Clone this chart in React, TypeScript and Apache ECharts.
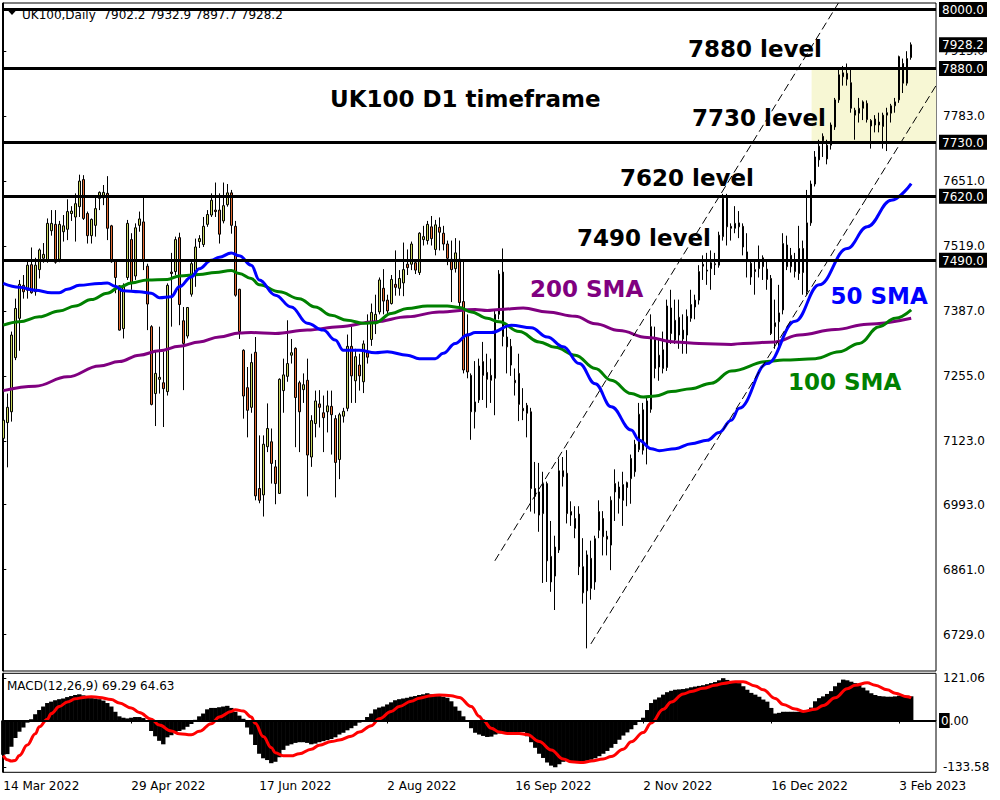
import React, { useEffect, useRef } from 'react';
import * as echarts from 'echarts';

// [open, close, low, high] per daily bar, 14 Mar 2022 .. Feb 2023
const CANDLES: number[][] = [
  [7128, 7165, 7120, 7220], [7160, 7191, 7069, 7219], [7182, 7338, 7162, 7345], [7292, 7392, 7287, 7412], [7372, 7441, 7306, 7450],
  [7439, 7426, 7412, 7460], [7429, 7480, 7412, 7490], [7481, 7424, 7422, 7516], [7426, 7480, 7418, 7495], [7471, 7511, 7453, 7514],
  [7494, 7502, 7485, 7525], [7490, 7565, 7485, 7575], [7550, 7565, 7540, 7592], [7563, 7486, 7483, 7592], [7492, 7563, 7486, 7570],
  [7548, 7560, 7528, 7582], [7553, 7589, 7531, 7614], [7585, 7590, 7570, 7600], [7578, 7605, 7528, 7626], [7599, 7651, 7578, 7664],
  [7654, 7575, 7572, 7663], [7585, 7540, 7524, 7589], [7540, 7573, 7524, 7575], [7561, 7595, 7538, 7619], [7616, 7628, 7592, 7630],
  [7617, 7628, 7602, 7643], [7626, 7555, 7531, 7661], [7560, 7487, 7485, 7562], [7490, 7455, 7423, 7492], [7438, 7348, 7347, 7439],
  [7351, 7436, 7331, 7443], [7455, 7565, 7450, 7572], [7532, 7443, 7430, 7545], [7458, 7556, 7450, 7565], [7561, 7574, 7548, 7589],
  [7568, 7490, 7470, 7619], [7478, 7401, 7348, 7483], [7355, 7197, 7195, 7358], [7219, 7260, 7153, 7304], [7248, 7252, 7219, 7355],
  [7241, 7229, 7151, 7304], [7223, 7439, 7215, 7443], [7466, 7463, 7355, 7505], [7467, 7532, 7460, 7538], [7536, 7400, 7358, 7546],
  [7367, 7321, 7226, 7395], [7336, 7394, 7331, 7395], [7421, 7483, 7416, 7490], [7460, 7517, 7436, 7534], [7528, 7534, 7515, 7541],
  [7522, 7559, 7517, 7578], [7563, 7583, 7558, 7592], [7582, 7612, 7578, 7626], [7592, 7589, 7578, 7648], [7592, 7543, 7524, 7626],
  [7570, 7601, 7565, 7648], [7603, 7627, 7599, 7645], [7627, 7561, 7544, 7633], [7559, 7419, 7416, 7570], [7431, 7345, 7330, 7432],
  [7307, 7214, 7168, 7309], [7231, 7185, 7130, 7273], [7191, 7282, 7180, 7300], [7303, 7011, 7002, 7334], [7026, 7002, 6996, 7134],
  [7013, 7116, 6969, 7134], [7111, 7148, 7100, 7199], [7121, 7077, 7036, 7148], [7070, 7036, 6994, 7084], [7016, 7248, 7015, 7250],
  [7225, 7257, 7180, 7290], [7254, 7280, 7243, 7368], [7297, 7302, 7280, 7330], [7311, 7211, 7110, 7313], [7241, 7182, 7100, 7245],
  [7227, 7237, 7200, 7260], [7246, 7094, 7010, 7290], [7090, 7164, 7070, 7175], [7158, 7204, 7130, 7225], [7198, 7191, 7150, 7226],
  [7180, 7170, 7100, 7215], [7182, 7194, 7140, 7225], [7193, 7176, 7095, 7225], [7168, 7079, 7008, 7175], [7085, 7176, 7045, 7180],
  [7173, 7183, 7160, 7190], [7189, 7315, 7183, 7339], [7315, 7255, 7200, 7355], [7245, 7294, 7200, 7310], [7277, 7255, 7225, 7300],
  [7243, 7320, 7220, 7327], [7302, 7293, 7280, 7380], [7329, 7384, 7316, 7402], [7361, 7380, 7340, 7420], [7385, 7450, 7380, 7455],
  [7433, 7407, 7380, 7472], [7409, 7387, 7380, 7420], [7402, 7451, 7400, 7460], [7441, 7435, 7418, 7510], [7433, 7453, 7418, 7470],
  [7444, 7471, 7417, 7526], [7482, 7475, 7460, 7512], [7482, 7523, 7470, 7528], [7485, 7470, 7462, 7490], [7465, 7545, 7460, 7547],
  [7532, 7538, 7520, 7560], [7530, 7563, 7522, 7570], [7558, 7534, 7520, 7580], [7512, 7562, 7500, 7572], [7557, 7547, 7510, 7577],
  [7545, 7523, 7510, 7560], [7523, 7494, 7480, 7530], [7492, 7471, 7405, 7530], [7473, 7505, 7465, 7535], [7492, 7404, 7395, 7530],
  [7406, 7267, 7260, 7490], [7340, 7263, 7250, 7380], [7256, 7182, 7125, 7260], [7182, 7202, 7148, 7285], [7206, 7275, 7200, 7290],
  [7284, 7256, 7206, 7324], [7262, 7248, 7190, 7300], [7256, 7246, 7200, 7290], [7250, 7380, 7175, 7390], [7380, 7462, 7370, 7470],
  [7466, 7335, 7315, 7514], [7334, 7314, 7260, 7355], [7315, 7277, 7255, 7330], [7246, 7241, 7215, 7270], [7260, 7197, 7163, 7300],
  [7189, 7184, 7165, 7230], [7195, 7179, 7130, 7200], [7182, 7026, 6979, 7190], [7026, 7010, 6975, 7080], [7019, 6972, 6938, 7078],
  [6975, 7036, 6834, 7060], [7036, 6879, 6836, 7040], [6888, 6836, 6816, 6960], [6848, 6907, 6779, 6930], [6901, 7062, 6895, 7087],
  [7062, 7050, 7030, 7090], [7057, 6975, 6955, 7104], [6979, 6972, 6950, 7000], [6945, 6965, 6925, 6990], [6974, 6867, 6850, 6990],
  [6867, 6814, 6792, 6925], [6818, 6891, 6701, 6900], [6884, 6823, 6800, 6920], [6836, 6924, 6820, 6930], [6941, 6979, 6925, 7002],
  [6965, 6928, 6890, 6980], [6929, 6923, 6890, 6940], [6911, 7002, 6860, 7010], [7036, 7019, 6960, 7065], [7006, 7029, 6975, 7040],
  [7002, 7034, 6950, 7060], [7038, 7028, 6990, 7040], [7046, 7087, 6995, 7095], [7060, 7116, 7050, 7125], [7105, 7177, 7100, 7200],
  [7186, 7104, 7095, 7200], [7114, 7204, 7075, 7210], [7187, 7355, 7180, 7380], [7329, 7270, 7250, 7355], [7297, 7273, 7245, 7330],
  [7270, 7308, 7260, 7345], [7272, 7397, 7265, 7410], [7393, 7341, 7320, 7430], [7328, 7368, 7320, 7410], [7374, 7338, 7310, 7410],
  [7348, 7330, 7300, 7380], [7338, 7376, 7300, 7390], [7372, 7400, 7365, 7430], [7395, 7409, 7370, 7420], [7409, 7467, 7400, 7480],
  [7482, 7478, 7450, 7500], [7470, 7468, 7440, 7505], [7473, 7485, 7430, 7510], [7483, 7481, 7460, 7505], [7480, 7541, 7475, 7548],
  [7538, 7616, 7530, 7625], [7619, 7558, 7520, 7625], [7559, 7555, 7530, 7565], [7555, 7565, 7545, 7600], [7566, 7558, 7535, 7590],
  [7559, 7517, 7500, 7565], [7507, 7490, 7455, 7545], [7484, 7456, 7440, 7487], [7471, 7467, 7420, 7487], [7473, 7490, 7455, 7520],
  [7495, 7477, 7450, 7500], [7472, 7451, 7430, 7490], [7453, 7341, 7338, 7460], [7355, 7363, 7310, 7410], [7365, 7383, 7310, 7440],
  [7389, 7524, 7380, 7545], [7521, 7477, 7470, 7540], [7500, 7477, 7465, 7515], [7467, 7487, 7455, 7505], [7463, 7514, 7450, 7560],
  [7514, 7465, 7420, 7530], [7426, 7566, 7420, 7633], [7566, 7645, 7560, 7652], [7645, 7700, 7640, 7712], [7694, 7722, 7680, 7735],
  [7742, 7733, 7700, 7748], [7696, 7724, 7685, 7735], [7724, 7765, 7715, 7770], [7761, 7816, 7755, 7820], [7816, 7867, 7810, 7880],
  [7871, 7863, 7845, 7885], [7870, 7858, 7845, 7890], [7851, 7799, 7790, 7880], [7795, 7785, 7735, 7800], [7789, 7799, 7770, 7820],
  [7799, 7812, 7775, 7815], [7809, 7776, 7770, 7815], [7774, 7763, 7717, 7777], [7765, 7777, 7750, 7785], [7771, 7765, 7750, 7790],
  [7762, 7785, 7717, 7790], [7785, 7790, 7712, 7800], [7789, 7804, 7770, 7808], [7804, 7812, 7790, 7820], [7816, 7904, 7810, 7906],
  [7890, 7850, 7830, 7900], [7850, 7900, 7845, 7915], [7902.2, 7928.2, 7897.7, 7932.9],
];

// moving averages: [bar index, value]
const SMA50: number[][] = [
  [0, 7443], [4, 7435], [8, 7429], [12, 7424], [14, 7424], [16, 7431], [19, 7439], [24, 7443], [26, 7444], [28, 7437],
  [30, 7428], [34, 7426], [37, 7423], [39, 7414], [42, 7416], [44, 7436], [47, 7456], [49, 7473], [52, 7490], [54, 7496],
  [57, 7505], [59, 7499], [62, 7480], [64, 7450], [68, 7419], [72, 7395], [76, 7362], [80, 7348], [83, 7328], [85, 7307],
  [89, 7307], [93, 7302], [96, 7304], [101, 7297], [104, 7290], [108, 7290], [110, 7301], [113, 7321], [116, 7338], [118, 7343],
  [122, 7343], [127, 7358], [132, 7353], [136, 7334], [140, 7314], [144, 7280], [148, 7239], [152, 7192], [157, 7145], [159, 7124],
  [162, 7107], [164, 7103], [168, 7107], [172, 7117], [176, 7124], [179, 7140], [182, 7165], [184, 7189], [191, 7280], [198, 7366],
  [204, 7440], [211, 7514], [216, 7558], [222, 7612], [227, 7646],
];
const SMA100: number[][] = [
  [0, 7358], [4, 7365], [9, 7375], [14, 7387], [18, 7397], [22, 7410], [26, 7423], [29, 7435], [32, 7444], [36, 7450],
  [41, 7451], [44, 7458], [49, 7461], [53, 7465], [57, 7469], [59, 7463], [62, 7453], [64, 7440], [69, 7426], [74, 7412],
  [78, 7395], [82, 7378], [86, 7368], [90, 7362], [93, 7363], [97, 7382], [101, 7392], [106, 7397], [111, 7397], [114, 7394],
  [117, 7385], [121, 7372], [124, 7365], [129, 7345], [134, 7324], [138, 7313], [143, 7297], [148, 7270], [152, 7246], [157, 7219],
  [160, 7212], [163, 7214], [167, 7223], [172, 7229], [177, 7240], [182, 7265], [191, 7284], [195, 7287], [203, 7290], [209, 7304],
  [214, 7321], [219, 7355], [223, 7372], [227, 7389],
];
const SMA200: number[][] = [
  [0, 7225], [8, 7234], [16, 7253], [24, 7275], [29, 7284], [34, 7297], [39, 7306], [44, 7315], [49, 7324], [54, 7334],
  [59, 7342], [62, 7343], [68, 7341], [76, 7348], [84, 7355], [93, 7365], [101, 7375], [109, 7385], [118, 7390], [121, 7388],
  [124, 7390], [130, 7393], [136, 7385], [143, 7376], [148, 7361], [154, 7347], [161, 7333], [168, 7324], [174, 7321], [182, 7319],
  [185, 7321], [193, 7324], [199, 7338], [208, 7349], [216, 7360], [227, 7372],
];

// MACD(12,26,9) main value per bar (histogram)
const MACD_MAIN: number[] = [
  -98, -96, -75, -50, -32, -20, -6, 4, 18, 30,
  40, 50, 54, 58, 61, 63, 67, 70, 73, 75,
  72, 68, 64, 63, 61, 57, 50, 40, 25, 12,
  8, 6, 8, 10, 10, 7, -3, -30, -45, -58,
  -68, -48, -42, -35, -30, -26, -18, -10, 2, 12,
  20, 32, 36, 36, 38, 40, 42, 36, 25, 14,
  5, -20, -40, -70, -95, -108, -113, -122, -118, -105,
  -84, -72, -68, -64, -62, -62, -64, -68, -66, -62,
  -59, -56, -53, -48, -40, -35, -28, -22, -15, -6,
  0, 10, 20, 32, 37, 40, 46, 52, 58, 61,
  63, 65, 68, 70, 73, 75, 78, 75, 72, 70,
  68, 65, 55, 40, 28, 12, 0, -22, -35, -40,
  -44, -47, -46, -40, -37, -34, -33, -33, -33, -33,
  -33, -45, -62, -78, -95, -107, -120, -129, -133.58, -125,
  -118, -115, -116, -118, -117, -116, -115, -112, -108, -102,
  -95, -87, -78, -67, -55, -43, -34, -25, -13, -2,
  8, 30, 50, 60, 66, 74, 81, 85, 88, 89,
  90, 92, 95, 97, 99, 101, 104, 107, 110, 115,
  121.06, 116, 112, 110, 107, 98, 88, 79, 74, 68,
  60, 54, 36, 20, 22, 25, 25, 25, 25, 25,
  26, 29, 37, 55, 64, 69, 76, 84, 98, 108,
  117, 115, 111, 107, 101, 94, 86, 78, 73, 70,
  69, 68, 68, 69, 71, 73, 71, 69.29,
];
// MACD signal line: [bar index, value]
const MACD_SIGNAL: number[][] = [
  [0, -100], [1, -112], [2, -116], [3, -114], [4, -100], [6, -70], [8, -38], [9, -18], [11, 4], [12, 20],
  [14, 40], [16, 53], [18, 62], [20, 66], [22, 68], [24, 66], [27, 60], [29, 50], [32, 36], [34, 23],
  [37, 4], [39, -13], [42, -30], [44, -38], [47, -41], [49, -31], [52, -9], [54, 10], [57, 26], [58, 31],
  [60, 27], [62, 10], [63, -8], [65, -46], [67, -77], [68, -92], [70, -101], [72, -101], [74, -95], [77, -82],
  [79, -71], [82, -60], [84, -56], [87, -45], [89, -33], [92, -15], [94, 5], [97, 26], [99, 40], [102, 55],
  [104, 64], [107, 71], [109, 73], [112, 71], [114, 66], [117, 40], [119, 12], [120, 0], [122, -22], [124, -33],
  [126, -37], [129, -37], [131, -40], [134, -60], [137, -84], [140, -110], [142, -118], [145, -120], [147, -116], [150, -110],
  [152, -103], [155, -82], [157, -61], [160, -34], [162, -7], [165, 32], [167, 53], [170, 76], [172, 83], [175, 92],
  [178, 101], [180, 106], [183, 111], [185, 111], [188, 99], [190, 88], [193, 63], [195, 46], [198, 33], [200, 26],
  [203, 32], [205, 43], [208, 65], [211, 91], [213, 101], [216, 108], [218, 101], [221, 88], [223, 78], [226, 68],
  [227, 64.63],
];

const LEVELS = [8000, 7880, 7730, 7620, 7490];
const CURRENT_PRICE = 7928.2;
const PRICE_TICKS = [6729, 6861, 6993, 7123, 7255, 7387, 7519, 7651, 7783, 7915];
const MACD_TICKS = [121.06, 0, -133.58];
const DATE_TICK_IDX = [0, 32, 64, 96, 128, 160, 192, 224];
const DATE_LABELS = ['14 Mar 2022', '29 Apr 2022', '17 Jun 2022', '2 Aug 2022', '16 Sep 2022', '2 Nov 2022', '16 Dec 2022', '3 Feb 2023'];
const ZONE_X = [202.1, 233.2];
const ZONE_Y = [7880, 7730];
const TREND_A: number[][] = [[122.9, 6879], [208.8, 8013]];
const TREND_B: number[][] = [[146.9, 6710], [233.2, 7845]];

const FONT = 'DejaVu Sans';
const X_MIN = -0.2;
const X_MAX = 233.2;

function buildOption(): any {
  const boxed = new Set([...LEVELS, CURRENT_PRICE]);
  const annot = (text: string, x: number, y: number, fill: string) => ({
    type: 'text',
    x,
    y,
    z: 100,
    style: {
      text,
      fill,
      fontSize: 23,
      fontWeight: 'bold',
      fontFamily: FONT,
      align: 'left',
      verticalAlign: 'middle',
      textAlign: 'left',
      textVerticalAlign: 'middle',
    },
  });
  return {
    animation: false,
    backgroundColor: '#ffffff',
    textStyle: { fontFamily: FONT },
    title: [
      {
        text: 'UK100,Daily  7902.2 7932.9 7897.7 7928.2',
        left: 22,
        top: 9,
        padding: 0,
        textStyle: { fontSize: 12, fontWeight: 'normal', color: '#000', fontFamily: FONT },
      },
      {
        text: 'MACD(12,26,9) 69.29 64.63',
        left: 7,
        top: 680,
        padding: 0,
        textStyle: { fontSize: 12, fontWeight: 'normal', color: '#000', fontFamily: FONT },
      },
    ],
    grid: [
      { left: 2.5, right: 64, top: 3, height: 668, show: true, borderColor: '#000', borderWidth: 1, backgroundColor: 'transparent' },
      { left: 2.5, right: 64, top: 673.3, height: 99, show: true, borderColor: '#000', borderWidth: 1, backgroundColor: 'transparent' },
    ],
    xAxis: [
      { type: 'value', gridIndex: 0, min: X_MIN, max: X_MAX, show: false, splitLine: { show: false } },
      {
        type: 'value',
        gridIndex: 1,
        min: X_MIN,
        max: X_MAX,
        position: 'bottom',
        splitLine: { show: false },
        axisLine: { show: true, lineStyle: { color: '#000', width: 1 } },
        axisTick: { show: true, length: 3, customValues: DATE_TICK_IDX, lineStyle: { color: '#000' } },
        axisLabel: {
          show: true,
          customValues: DATE_TICK_IDX,
          formatter: (v: number) => DATE_LABELS[DATE_TICK_IDX.indexOf(Math.round(v))] ?? '',
          align: 'left',
          margin: 8,
          color: '#000',
          fontSize: 12,
          fontFamily: FONT,
        },
      },
    ],
    yAxis: [
      {
        type: 'value',
        gridIndex: 0,
        position: 'right',
        min: 6655,
        max: 8013,
        splitLine: { show: false },
        axisLine: { show: true, lineStyle: { color: '#000', width: 1 } },
        axisTick: { show: true, inside: false, length: 3, customValues: PRICE_TICKS, lineStyle: { color: '#000' } },
        axisLabel: {
          show: true,
          customValues: [...PRICE_TICKS, ...LEVELS, CURRENT_PRICE],
          margin: 3,
          formatter: (v: number) => (boxed.has(v) ? `{b|${v.toFixed(1)}}` : `{n|${v.toFixed(1)}}`),
          rich: {
            b: { backgroundColor: '#000', color: '#fff', padding: [2, 3, 1, 3], fontSize: 12, fontFamily: FONT },
            n: { color: '#000', padding: [0, 0, 0, 4], fontSize: 12, fontFamily: FONT },
          },
        },
      },
      {
        type: 'value',
        gridIndex: 1,
        position: 'right',
        min: -148,
        max: 135,
        splitLine: { show: false },
        axisLine: { show: true, lineStyle: { color: '#000', width: 1 } },
        axisTick: { show: true, length: 3, customValues: MACD_TICKS, lineStyle: { color: '#000' } },
        axisLabel: {
          show: true,
          customValues: MACD_TICKS,
          margin: 3,
          formatter: (v: number) => (v === 0 ? '{z|0}{n0|.00}' : `{n|${v.toFixed(2)}}`),
          rich: {
            z: { backgroundColor: '#000', color: '#fff', padding: [2, 1, 1, 2], fontSize: 12, fontFamily: FONT },
            n0: { color: '#000', fontSize: 12, fontFamily: FONT },
            n: { color: '#000', padding: [0, 0, 0, 4], fontSize: 12, fontFamily: FONT },
          },
        },
      },
    ],
    series: [
      {
        name: 'zone',
        type: 'line',
        xAxisIndex: 0,
        yAxisIndex: 0,
        data: [],
        z: 1,
        silent: true,
        markArea: {
          silent: true,
          itemStyle: { color: '#f7f7d4', opacity: 1 },
          data: [[{ xAxis: ZONE_X[0], yAxis: ZONE_Y[0] }, { xAxis: ZONE_X[1], yAxis: ZONE_Y[1] }]],
        },
      },
      {
        name: 'UK100',
        type: 'candlestick',
        xAxisIndex: 0,
        yAxisIndex: 0,
        z: 2,
        barWidth: 2,
        data: CANDLES.map((c, i) => [i, c[0], c[1], c[2], c[3]]),
        itemStyle: {
          color: '#c8d55c',
          color0: '#e2692f',
          borderColor: '#000',
          borderColor0: '#000',
          borderColorDoji: '#000',
          borderWidth: 1,
        },
      },
      {
        name: '200 SMA',
        type: 'line',
        xAxisIndex: 0,
        yAxisIndex: 0,
        z: 3,
        data: SMA200,
        symbol: 'none',
        smooth: 0.4,
        smoothMonotone: 'x',
        lineStyle: { color: '#800080', width: 3 },
      },
      {
        name: '100 SMA',
        type: 'line',
        xAxisIndex: 0,
        yAxisIndex: 0,
        z: 3,
        data: SMA100,
        symbol: 'none',
        smooth: 0.4,
        smoothMonotone: 'x',
        lineStyle: { color: '#008000', width: 3 },
      },
      {
        name: '50 SMA',
        type: 'line',
        xAxisIndex: 0,
        yAxisIndex: 0,
        z: 3,
        data: SMA50,
        symbol: 'none',
        smooth: 0.4,
        smoothMonotone: 'x',
        lineStyle: { color: '#0000ff', width: 3 },
      },
      {
        name: 'trend A',
        type: 'line',
        xAxisIndex: 0,
        yAxisIndex: 0,
        z: 4,
        data: TREND_A,
        symbol: 'none',
        lineStyle: { color: '#000', width: 1, type: [8, 4] },
      },
      {
        name: 'trend B',
        type: 'line',
        xAxisIndex: 0,
        yAxisIndex: 0,
        z: 4,
        data: TREND_B,
        symbol: 'none',
        lineStyle: { color: '#000', width: 1, type: [8, 4] },
      },
      {
        name: 'levels',
        type: 'line',
        xAxisIndex: 0,
        yAxisIndex: 0,
        z: 5,
        data: [],
        markLine: {
          silent: true,
          symbol: ['none', 'none'],
          label: { show: false },
          lineStyle: { color: '#000', width: 3, type: 'solid' },
          data: LEVELS.map((v) => ({ yAxis: v })),
        },
      },
      {
        name: 'MACD',
        type: 'bar',
        xAxisIndex: 1,
        yAxisIndex: 1,
        z: 2,
        barWidth: 4.4,
        data: MACD_MAIN.map((v, i) => [i, v]),
        itemStyle: { color: '#000' },
        markLine: {
          silent: true,
          symbol: ['none', 'none'],
          label: { show: false },
          lineStyle: { color: '#000', width: 2, type: 'solid' },
          data: [{ yAxis: 0 }],
        },
      },
      {
        name: 'Signal',
        type: 'line',
        xAxisIndex: 1,
        yAxisIndex: 1,
        z: 3,
        data: MACD_SIGNAL,
        symbol: 'none',
        smooth: 0.4,
        smoothMonotone: 'x',
        lineStyle: { color: '#ff0000', width: 3 },
      },
    ],
    graphic: [
      { type: 'polygon', z: 100, shape: { points: [[7, 9.5], [17, 9.5], [12, 15]] }, style: { fill: '#000' } },
      annot('7880 level', 688, 49, '#000'),
      annot('UK100 D1 timeframe', 330, 99, '#000'),
      annot('7730 level', 692, 118, '#000'),
      annot('7620 level', 620, 177.5, '#000'),
      annot('7490 level', 577, 238, '#000'),
      annot('200 SMA', 530, 289, '#800080'),
      annot('50 SMA', 830.5, 296, '#0000ff'),
      annot('100 SMA', 788, 382, '#008000'),
    ],
  };
}

export default function App() {
  const ref = useRef<HTMLDivElement>(null);
  useEffect(() => {
    if (!ref.current) return;
    const chart = echarts.init(ref.current, null, { renderer: 'svg' });
    chart.setOption(buildOption());
    return () => {
      chart.dispose();
    };
  }, []);
  return (
    <div
      ref={ref}
      style={{ position: 'fixed', left: 0, top: 0, width: 1000, height: 800, background: '#ffffff' }}
    />
  );
}
